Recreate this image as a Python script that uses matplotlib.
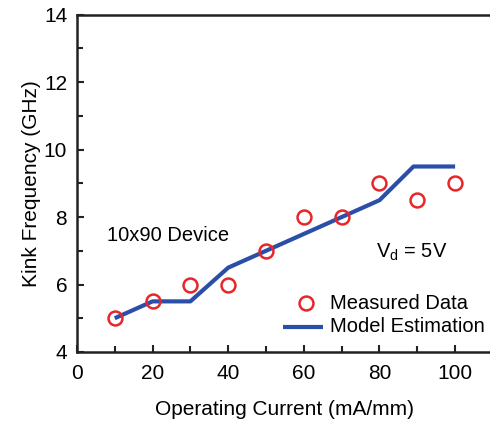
import matplotlib.pyplot as plt
from matplotlib.ticker import MultipleLocator

plt.rcParams['font.family'] = ['Liberation Sans', 'DejaVu Sans']

# measured kink frequency
current = [10, 20, 30, 40, 50, 60, 70, 80, 90, 100]
measured = [5.0, 5.5, 6.0, 6.0, 7.0, 8.0, 8.0, 9.0, 8.5, 9.0]

# model estimation
model_x = [10, 20, 30, 40, 50, 60, 70, 80, 89, 100]
model_y = [5.0, 5.5, 5.5, 6.5, 7.0, 7.5, 8.0, 8.5, 9.5, 9.5]

fig = plt.figure(figsize=(4.9, 4.22), dpi=100)
ax = fig.add_axes([0.157, 0.166, 0.849, 0.799])

ax.plot(model_x, model_y, color='#2b4fa8', lw=3, solid_capstyle='butt', zorder=2)
ax.plot(current, measured, 'o', mfc='none', mec='#e8262a', mew=1.8, ms=10, zorder=3)

ax.set_xlim(0, 110)
ax.set_ylim(4, 14)
ax.xaxis.set_major_locator(MultipleLocator(20))
ax.xaxis.set_minor_locator(MultipleLocator(10))
ax.yaxis.set_major_locator(MultipleLocator(2))
ax.yaxis.set_minor_locator(MultipleLocator(1))
ax.set_xticks([0, 20, 40, 60, 80, 100])
ax.tick_params(which='both', direction='in', labelsize=15, width=1.5, color='#222222')
ax.tick_params(which='major', length=5)
ax.tick_params(which='minor', length=4)
ax.tick_params(axis='x', pad=9)
ax.tick_params(axis='y', pad=7)

for s in ax.spines.values():
    s.set_linewidth(1.8)
    s.set_color('#222222')

ax.set_xlabel('Operating Current (mA/mm)', fontsize=15, labelpad=12)
ax.set_ylabel('Kink Frequency (GHz)', fontsize=15, labelpad=2)

ax.text(8, 7.3, '10x90 Device', fontsize=14.5)
ax.text(79, 6.8, r'V$_\mathregular{d}$ = 5V', fontsize=14.5)

# legend drawn by hand in data coords
ax.plot([60.5], [5.45], 'o', mfc='none', mec='#e8262a', mew=1.8, ms=10)
ax.text(67, 5.45, 'Measured Data', fontsize=14.5, va='center')
ax.plot([54.5, 65], [4.75, 4.75], color='#2b4fa8', lw=3, solid_capstyle='butt')
ax.text(67, 4.75, 'Model Estimation', fontsize=14.5, va='center')

fig.savefig('out.png', dpi=100)
